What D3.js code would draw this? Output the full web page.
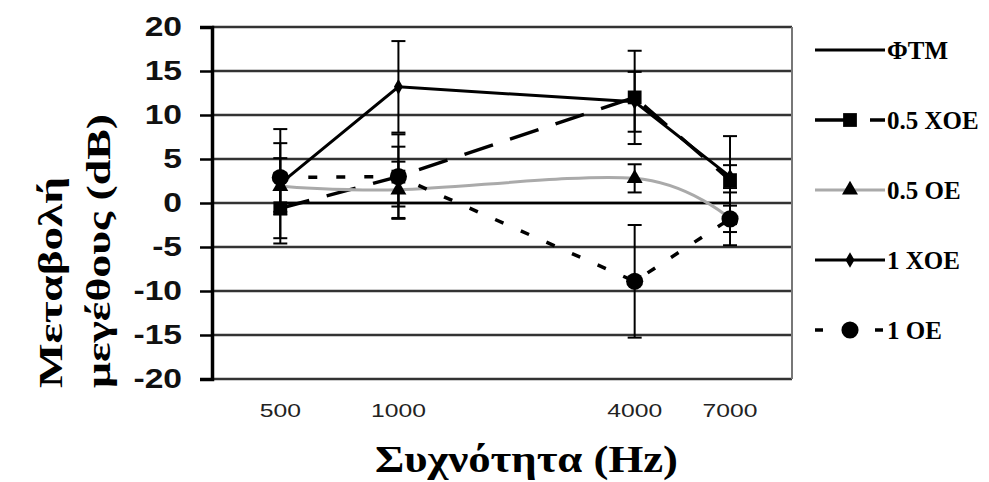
<!DOCTYPE html>
<html>
<head>
<meta charset="utf-8">
<script src="https://cdn.jsdelivr.net/npm/d3@7"></script>
<style>
  body { margin: 0; background: #fff; }
  svg { display: block; }
</style>
</head>
<body>
<div id="draw"></div>
<script>
// τιμές διαβασμένες από το διάγραμμα (Μεταβολή μεγέθους, dB)
var freqs = [500, 1000, 4000, 7000];
var freqLabels = ['500', '1000', '4000', '7000'];
var yTicks = [-20, -15, -10, -5, 0, 5, 10, 15, 20];

var ftm     = [0, 0, 0, 0];
var hoe05   = [-0.6, 3.0, 12.0, 2.6];
var hoe05Er = [4.0, 4.8, 5.3, 5.0];
var oe05    = [1.9, 1.5, 2.8, -1.8];
var oe05Er  = [3.2, 3.2, 1.6, 1.5];
var hoe1    = [2.2, 13.2, 11.5, 3.0];
var hoe1Er  = [6.2, 5.2, 3.4, 1.3];
var oe1     = [2.9, 3.0, -8.9, -1.8];
var oe1Er   = [3.9, 3.4, 6.4, 3.0];

var seriesNames = ['ΦΤΜ', '0.5 ΧΟΕ', '0.5 ΟΕ', '1 ΧΟΕ', '1 ΟΕ'];

window.onload = function () {
    var W = 989, H = 482;
    var svg = d3.select('#draw').append('svg').attr('width', W).attr('height', H);

    var left = 212, right = 792, top = 27, bottom = 379;
    var serif = '"Liberation Serif", "Times New Roman", serif';
    var sans = '"Liberation Sans", Arial, sans-serif';

    // άξονας συχνότητας σε λογαριθμική κλίμακα
    var x = d3.scaleLog().domain([331, 10070]).range([left - 2, right]);
    var y = d3.scaleLinear().domain([-20, 20]).range([bottom, top]);

    // γραμμές πλέγματος
    svg.append('g').selectAll('line').data(yTicks).enter().append('line')
        .attr('x1', left).attr('x2', right)
        .attr('y1', function (d) { return y(d); }).attr('y2', function (d) { return y(d); })
        .style('stroke', '#333').style('stroke-width', 2.6);

    // δεξί περίγραμμα
    svg.append('line').attr('x1', right).attr('x2', right).attr('y1', top).attr('y2', bottom)
        .style('stroke', '#777').style('stroke-width', 2);

    // άξονας y (τα γράμματα της εικόνας είναι τεντωμένα οριζόντια)
    var yAxis = d3.axisLeft(y).tickValues(yTicks).tickSize(12).tickPadding(18)
        .tickFormat(function (d) { return d; });
    var gy = svg.append('g').attr('transform', 'translate(' + left + ',0)').call(yAxis);
    gy.select('.domain').style('stroke', '#000').style('stroke-width', 3.5);
    gy.selectAll('.tick line').style('stroke', '#000').style('stroke-width', 2.5);
    gy.selectAll('text').attr('x', -30 / 1.2).attr('transform', 'scale(1.2,1)')
        .style('font-family', sans)
        .style('font-size', '28px').style('font-weight', 'bold').style('fill', '#111');

    // ετικέτες άξονα x
    svg.append('g').selectAll('text').data(freqs).enter().append('text')
        .attr('transform', function (d) { return 'translate(' + x(d) + ',417) scale(1.3,1)'; })
        .attr('text-anchor', 'middle')
        .style('font-family', sans)
        .style('font-size', '19px').style('fill', '#222')
        .text(function (d, i) { return freqLabels[i]; });

    // τίτλοι αξόνων
    svg.append('text').attr('x', 375).attr('y', 472)
        .attr('textLength', 303).attr('lengthAdjust', 'spacingAndGlyphs')
        .style('font-family', serif)
        .style('font-size', '38px').style('font-weight', 'bold')
        .text('Συχνότητα (Hz)');

    var yt = svg.append('g').attr('transform', 'translate(0,388) rotate(-90)');
    yt.append('text').attr('x', 0).attr('y', 62)
        .attr('textLength', 211).attr('lengthAdjust', 'spacingAndGlyphs')
        .style('font-family', serif).style('font-size', '33px').style('font-weight', 'bold')
        .text('Μεταβολή');
    yt.append('text').attr('x', 0).attr('y', 110)
        .attr('textLength', 274).attr('lengthAdjust', 'spacingAndGlyphs')
        .style('font-family', serif).style('font-size', '33px').style('font-weight', 'bold')
        .text('μεγέθους (dB)');

    // γεννήτριες γραμμών
    var pts = function (vals) { return vals.map(function (v, i) { return [x(freqs[i]), y(v)]; }); };
    var lineStraight = d3.line();
    var lineSmooth = d3.line().curve(d3.curveCatmullRom.alpha(0));

    // ράβδοι σφάλματος
    function errBars(vals, errs) {
        var g = svg.append('g');
        vals.forEach(function (v, i) {
            var cx = x(freqs[i]);
            g.append('line').attr('x1', cx).attr('x2', cx)
                .attr('y1', y(v + errs[i])).attr('y2', y(v - errs[i]))
                .style('stroke', '#000').style('stroke-width', 2);
            [v + errs[i], v - errs[i]].forEach(function (e) {
                g.append('line').attr('x1', cx - 7).attr('x2', cx + 7)
                    .attr('y1', y(e)).attr('y2', y(e))
                    .style('stroke', '#000').style('stroke-width', 2);
            });
        });
    }
    errBars(hoe1, hoe1Er);
    errBars(hoe05, hoe05Er);
    errBars(oe05, oe05Er);
    errBars(oe1, oe1Er);

    var styles = [
        { vals: ftm,   color: '#000', width: 2.6, dash: null,    gen: lineStraight, sym: null },
        { vals: hoe05, color: '#000', width: 3.5, dash: '30,18', gen: lineStraight, sym: d3.symbolSquare, size: 190 },
        { vals: oe05,  color: '#aaa', width: 3,   dash: null,    gen: lineSmooth,   sym: d3.symbolTriangle, size: 110 },
        { vals: hoe1,  color: '#000', width: 3,   dash: null,    gen: lineStraight, sym: d3.symbolDiamond, size: 70 },
        { vals: oe1,   color: '#000', width: 3.5, dash: '9,19',  gen: lineStraight, sym: d3.symbolCircle, size: 230 }
    ];

    styles.forEach(function (s) {
        svg.append('path').attr('d', s.gen(pts(s.vals)))
            .style('fill', 'none').style('stroke', s.color).style('stroke-width', s.width)
            .style('stroke-dasharray', s.dash);
    });
    styles.forEach(function (s) {
        if (!s.sym) return;
        svg.append('g').selectAll('path').data(s.vals).enter().append('path')
            .attr('transform', function (d, i) { return 'translate(' + x(freqs[i]) + ',' + y(d) + ')'; })
            .attr('d', d3.symbol().type(s.sym).size(s.size))
            .style('fill', '#000');
    });

    // υπόμνημα
    var ly = d3.scalePoint().domain(seriesNames).range([50, 330]);
    var lg = svg.append('g');
    seriesNames.forEach(function (name, i) {
        var s = styles[i], yy = ly(name);
        lg.append('line').attr('x1', 815).attr('x2', 885).attr('y1', yy).attr('y2', yy)
            .style('stroke', s.color).style('stroke-width', i === 0 ? 3 : s.width)
            .style('stroke-dasharray', s.dash ? (i === 1 ? '33,22' : '8,22') : null);
        if (s.sym) {
            lg.append('path').attr('transform', 'translate(850,' + yy + ')')
                .attr('d', d3.symbol().type(s.sym).size(s.size)).style('fill', '#000');
        }
        lg.append('text').attr('x', 887).attr('y', yy)
            .attr('dy', '0.35em')
            .style('font-family', serif)
            .style('font-size', '25px').style('font-weight', 'bold')
            .text(name);
    });
};
</script>
</body>
</html>
